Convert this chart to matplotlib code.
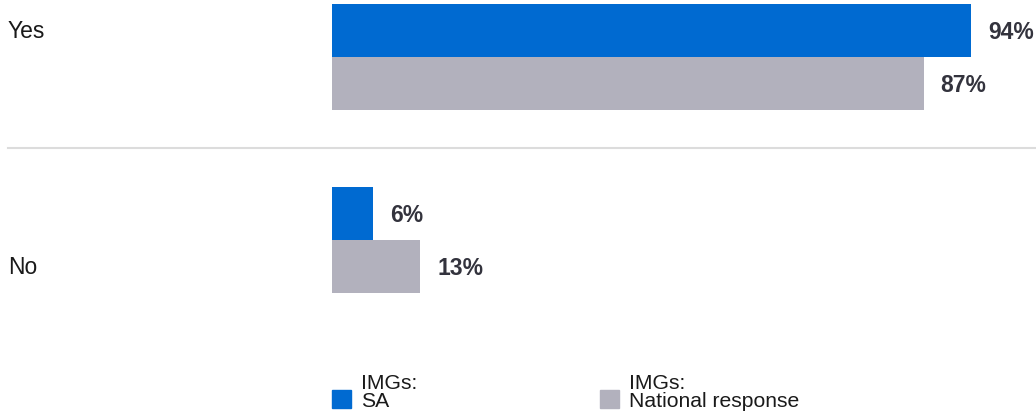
import matplotlib.pyplot as plt
import matplotlib.patches as mpatches
import numpy as np

plt.rcParams["font.family"] = ["Liberation Sans", "DejaVu Sans"]

categories = ["Yes", "No"]
series_names = ["IMGs:\nSA", "IMGs:\nNational response"]
sa_values = [94, 6]
national_values = [87, 13]
colors = ["#006AD1", "#B2B1BD"]

W, H = 1036, 414
fig = plt.figure(figsize=(W / 100, H / 100), dpi=100)

# bars axis: x from 332px to 1012px (0-100%), y from 0px to 300px
ax = fig.add_axes([332 / W, (H - 300) / H, 680 / W, 300 / H])
spacing = 183.0
bar_h = 53 / spacing
y = np.arange(len(categories))

for i, (vals, col) in enumerate(zip([sa_values, national_values], colors)):
    pos = y - bar_h / 2 + i * bar_h
    ax.barh(pos, vals, height=bar_h, color=col, align="center")
    for p, v in zip(pos, vals):
        ax.text(v + 2.5, p + 1 / spacing, f"{v}%", va="center", ha="left",
                fontsize=16.5, fontweight="bold", color="#33333d")

ax.set_xlim(0, 100)
ax.set_ylim((300 - 58) / spacing, -58 / spacing)
ax.axis("off")

# separator between categories
ax.axhline(0.5 - 1 / spacing, xmin=(8 - 332) / 680, xmax=(1036 - 332) / 680,
           color="#dcdcdc", lw=1.5, clip_on=False)

# category labels
ax.text(-324 / 6.8, -bar_h / 2, categories[0], ha="left", va="center",
        fontsize=16.5, color="#1a1a1a")
ax.text(-324 / 6.8, 1 + bar_h / 2, categories[1], ha="left", va="center",
        fontsize=16.5, color="#1a1a1a")

# legend
for name, col, x0 in zip(series_names, colors, [332, 600]):
    fig.patches.append(mpatches.Rectangle((x0 / W, (H - 409) / H), 19 / W, 18 / H,
                                          transform=fig.transFigure, color=col))
    fig.text((x0 + 29) / W, (H - 411) / H, name, ha="left", va="bottom",
             fontsize=15.2, color="#1a1a1a", linespacing=0.95)

fig.savefig("out.png", dpi=100)
